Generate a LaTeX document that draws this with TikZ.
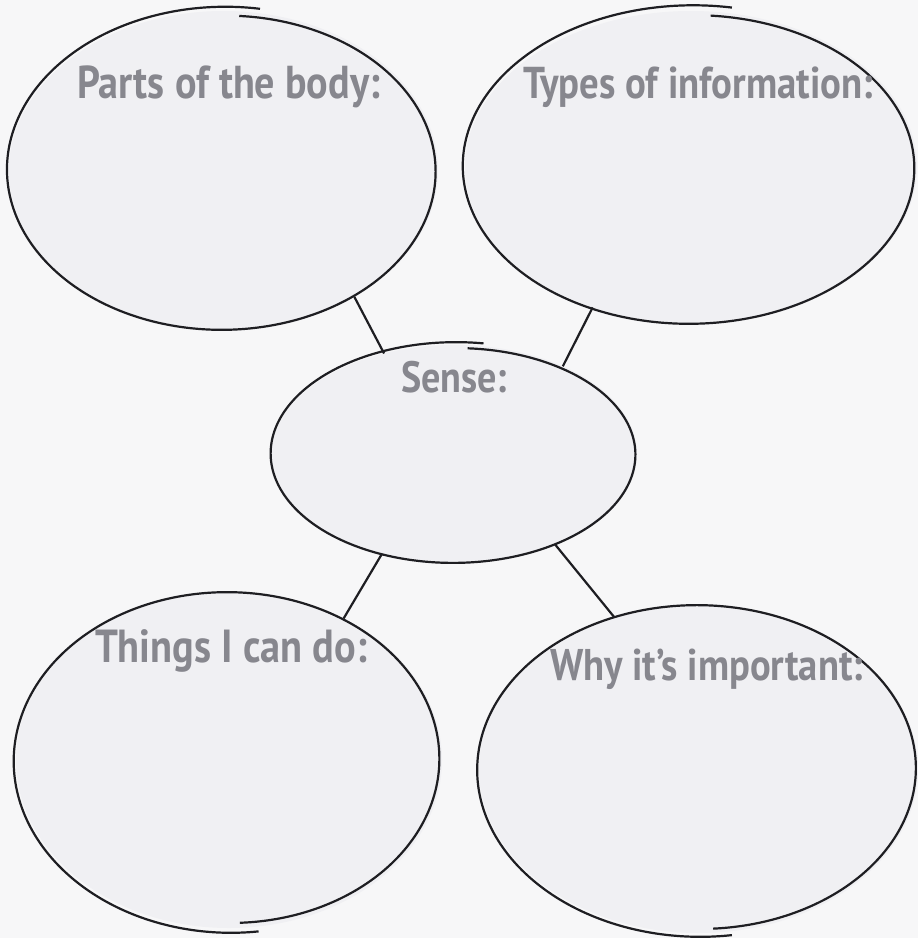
\documentclass[tikz,border=0pt]{standalone}
\usepackage{fontspec}
\setmainfont{PT Sans}
\usetikzlibrary{shapes.geometric}
\definecolor{bg}{RGB}{247,247,248}
\definecolor{blobfill}{RGB}{240,240,243}
\definecolor{ink}{RGB}{30,30,34}
\definecolor{lblgray}{RGB}{135,135,142}
\newcommand{\fitlbl}[2]{\scalebox{1}[1.15]{\resizebox{#1}{!}{\fontsize{30}{36}\selectfont\bfseries #2}}}
% spiral outline, overlap at the top: cx, cy, rx, ry, start, end, offset
\newcommand{\rimtop}[7]{%
  \draw[rim] plot[domain=#5:#6, samples=260, smooth]
    ({#1 + (#3 + #7*(2*(\x-#5)/(#6-#5)-1))*sin(\x)},
     {#2 - (#4 + #7*(2*(\x-#5)/(#6-#5)-1))*cos(\x)});}
% spiral outline, overlap at the bottom
\newcommand{\rimbot}[7]{%
  \draw[rim] plot[domain=#5:#6, samples=260, smooth]
    ({#1 + (#3 + #7*(2*(\x-#5)/(#6-#5)-1))*sin(\x)},
     {#2 + (#4 + #7*(2*(\x-#5)/(#6-#5)-1))*cos(\x)});}
\begin{document}
\begin{tikzpicture}[x=1pt,y=-1pt,
  blob/.style={ellipse, fill=blobfill, draw=none, inner sep=0pt, outer sep=0pt},
  rim/.style={draw=ink, line width=2.2pt, line cap=butt},
  link/.style={draw=ink, line width=2.2pt},
  title/.style={anchor=base west, inner sep=0pt, outer sep=0pt, text=lblgray}]
\useasboundingbox (0,0) rectangle (918,938);
\fill[bg] (0,0) rectangle (918,938);

% ellipses (named, filled)
\node[blob, minimum width=429pt, minimum height=319pt] (tl) at (223.5,170.5) {};
\node[blob, minimum width=452pt, minimum height=312pt] (tr) at (691,167) {};
\node[blob, minimum width=365pt, minimum height=218pt] (c)  at (454.5,454) {};
\node[blob, minimum width=426pt, minimum height=336pt] (bl) at (229,760) {};
\node[blob, minimum width=439pt, minimum height=328pt] (br) at (698.5,769) {};

% hand-drawn outlines
\rimtop{223.5}{170.5}{214.5}{159.5}{4.3}{369.6}{4.5}
\rimtop{691}{167}{226}{157}{5.1}{370.2}{5}
\rimtop{454.5}{454}{182.5}{109}{4.2}{369}{3}
\rimbot{229}{760}{213}{168}{3}{367.8}{5}
\rimbot{698.5}{769}{219.5}{164}{3.9}{368.6}{4}

% connectors
\draw[link] (tl.-44) -- (c.125.4);
\draw[link] (tr.235) -- (c.39.5);
\draw[link] (c.234.4) -- (bl.51);
\draw[link] (c.-42.9) -- (br.119.6);

% labels
\node[title] (t1) at (77,98)   {\fitlbl{303pt}{Parts of the body:}};
\node[title] (t2) at (523,98)  {\fitlbl{350pt}{Types of information:}};
\node[title] (t3) at (401,392) {\fitlbl{106pt}{Sense:}};
\node[title] (t4) at (95,662)  {\fitlbl{272pt}{Things I can do:}};
\node[title] (t5) at (550,680) {\fitlbl{313pt}{Why it’s important:}};
\end{tikzpicture}
\end{document}
